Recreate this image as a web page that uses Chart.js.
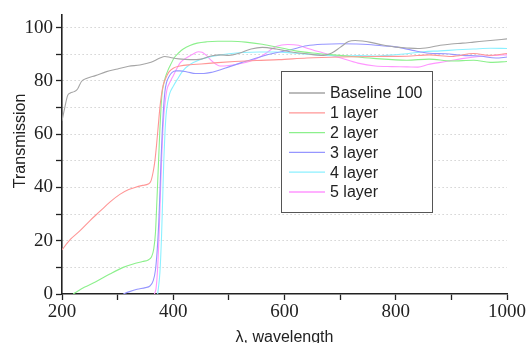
<!DOCTYPE html>
<html>
<head>
<meta charset="utf-8">
<script src="https://cdn.jsdelivr.net/npm/chart.js@4/dist/chart.umd.min.js"></script>
<style>
  html, body { margin: 0; padding: 0; background: #fff; }
</style>
</head>
<body>
<canvas id="specChart" width="527" height="343"></canvas>
<script>
// series names, as in the legend
var seriesNames = ['Baseline 100', '1 layer', '2 layer', '3 layer', '4 layer', '5 layer'];

// Baseline 100 (grey)
var baselineX = [200, 205, 210, 215, 222, 228, 235, 245, 260, 280, 300, 320, 340, 360, 375, 385, 395, 410, 430, 450, 470, 485, 500, 520, 540, 560, 585, 610, 640, 670, 685, 700, 715, 727, 740, 755, 775, 800, 820, 840, 860, 880, 900, 920, 940, 960, 980, 1000];
var baselineY = [65, 70, 74.5, 75.5, 76, 77, 79.8, 81, 82, 83.5, 84.5, 85.5, 86, 87, 88.5, 89.2, 88.8, 88.3, 88, 88.2, 89.5, 89.8, 89.6, 90.5, 92, 92.6, 92, 91, 90.2, 89.6, 90.5, 92.6, 94.8, 95.2, 95, 94.5, 93.6, 92.7, 92.4, 92.2, 92.6, 93.4, 93.9, 94.2, 94.6, 95, 95.4, 95.8];

// 1 layer (red)
var layer1X = [200, 215, 232, 250, 268, 286, 304, 320, 331, 345, 355, 360, 364, 367, 370, 373, 376, 379, 382, 386, 392, 400, 412, 430, 450, 480, 510, 550, 590, 640, 700, 760, 820, 860, 900, 940, 970, 1000];
var layer1Y = [16.6, 20.5, 23.7, 27.5, 31, 34.5, 37.4, 39.2, 40, 40.8, 41.3, 42.5, 46, 50, 56, 63, 70, 75, 78.5, 80.8, 83.3, 84.8, 85.6, 86.1, 86.4, 86.9, 87.3, 87.7, 88, 88.6, 89, 89.2, 89.3, 89.8, 89.2, 90.3, 89.6, 90.3];

// 2 layer (green)
var layer2X = [220, 240, 260, 286, 310, 328, 345, 355, 361, 365, 368, 370, 372, 374, 376, 378, 380, 383, 386, 390, 395, 402, 410, 418, 430, 443, 460, 480, 505, 530, 560, 590, 620, 650, 700, 760, 820, 860, 900, 940, 970, 1000];
var layer2Y = [0, 2.5, 4.5, 7.5, 10, 11.3, 12.2, 12.8, 14, 17, 23, 32, 42, 52, 62, 70, 75.5, 79, 81.5, 83.8, 86, 88.8, 90.6, 92, 93.3, 94.2, 94.7, 94.9, 94.9, 94.6, 93.8, 92.6, 91.3, 90.5, 89.6, 88.5, 87.8, 88.2, 87.5, 87.8, 87, 87.3];

// 3 layer (blue)
var layer3X = [310, 320, 335, 350, 358, 364, 368, 371, 374, 376, 378, 380, 382, 385, 388, 392, 398, 405, 412, 425, 440, 455, 470, 485, 500, 520, 540, 560, 585, 610, 640, 670, 700, 730, 750, 775, 800, 830, 860, 890, 920, 950, 980, 1000];
var layer3Y = [0, 0.8, 1.8, 2.4, 3, 5, 9, 16, 27, 38, 50, 60, 68, 76, 79.5, 81.5, 83.2, 83.8, 83.8, 83.4, 82.8, 82.8, 83.3, 84.2, 85.3, 86.7, 88, 89.3, 90.6, 91.7, 93.2, 93.8, 94, 93.9, 93.7, 93.2, 92.8, 91.5, 90.4, 90.2, 89.6, 89.4, 88.6, 89];

// 4 layer (cyan)
var layer4X = [372, 376, 379, 381, 383, 385, 387, 390, 394, 400, 407, 418, 430, 448, 465, 480, 500, 525, 555, 585, 615, 645, 675, 705, 735, 765, 790, 820, 850, 880, 910, 940, 970, 1000];
var layer4Y = [0, 8, 22, 36, 50, 60, 67, 72, 75.5, 78, 80.5, 84, 86.2, 88, 89, 89.6, 90.2, 90.7, 90.9, 90.9, 90.5, 90, 89.6, 89.4, 89.5, 89.4, 89.7, 90.2, 91, 91.3, 91.7, 92, 92.3, 92.2];

// 5 layer (magenta)
var layer5X = [366, 369, 372, 375, 377, 379, 381, 383, 386, 389, 394, 400, 406, 412, 420, 433, 445, 452, 460, 470, 484, 500, 515, 538, 560, 586, 606, 625, 642, 670, 703, 732, 763, 793, 820, 840, 858, 890, 919, 950, 978, 1000];
var layer5Y = [0, 2, 10, 25, 38, 50, 60, 67, 73, 77, 79.5, 82, 84.5, 86.7, 88.2, 89.8, 91, 90.8, 89.5, 87.4, 85.6, 85.8, 86.3, 87.4, 89.5, 93, 93.7, 93.4, 92.2, 90.5, 88.5, 86.7, 85.6, 85.4, 85.3, 85.2, 86.2, 87.3, 88.4, 89.2, 89.6, 89.8];

var lineColours = ['rgb(165,165,165)', 'rgb(255,150,150)', 'rgb(140,240,140)', 'rgb(150,150,255)', 'rgb(140,240,255)', 'rgb(255,150,255)'];

var allX = [baselineX, layer1X, layer2X, layer3X, layer4X, layer5X];
var allY = [baselineY, layer1Y, layer2Y, layer3Y, layer4Y, layer5Y];

// turn x / y arrays into point lists for each dataset
var datasets = [];
for (var i = 0; i < seriesNames.length; i++) {
    var pts = [];
    for (var j = 0; j < allX[i].length; j++) {
        pts.push({x: allX[i][j], y: allY[i][j]});
    }
    datasets.push({
        label: seriesNames[i],
        data: pts,
        borderColor: lineColours[i],
        borderWidth: 1.1,
        pointRadius: 0,
        fill: false,
        cubicInterpolationMode: 'monotone'
    });
}

// legend box drawn inside the plot, like the original
var boxLegend = {
    id: 'boxLegend',
    afterDraw: function(chart) {
        var ctx = chart.ctx;
        ctx.save();
        ctx.fillStyle = '#fff';
        ctx.fillRect(281, 71, 151, 141);
        ctx.strokeStyle = '#555';
        ctx.lineWidth = 1;
        ctx.strokeRect(281.5, 71.5, 151, 141);
        ctx.font = '16px "Liberation Sans", Arial, sans-serif';
        ctx.textBaseline = 'middle';
        ctx.fillStyle = '#222';
        chart.data.datasets.forEach(function(ds, k) {
            var y = 93 + k * 19.8;
            ctx.strokeStyle = ds.borderColor;
            ctx.lineWidth = 1.3;
            ctx.beginPath();
            ctx.moveTo(289, y);
            ctx.lineTo(325, y);
            ctx.stroke();
            ctx.fillText(ds.label, 330, y + 1);
        });
        ctx.restore();
    }
};

var tickFont = {family: '"Liberation Serif", "Times New Roman", serif', size: 19};
var titleFont = {family: '"Liberation Sans", Arial, sans-serif', size: 16};

new Chart(document.getElementById('specChart'), {
    type: 'line',
    data: {datasets: datasets},
    plugins: [boxLegend],
    options: {
        responsive: false,
        animation: false,
        layout: {padding: {left: 0, right: 20, top: 8, bottom: 0}},
        plugins: {legend: {display: false}, tooltip: {enabled: false}},
        scales: {
            x: {
                type: 'linear',
                min: 200,
                max: 1000,
                afterFit: function(s) { s.height = 49; },
                ticks: {
                    stepSize: 100,
                    autoSkip: false,
                    maxRotation: 0,
                    padding: 1,
                    color: '#222',
                    font: tickFont,
                    callback: function(v) { return v % 200 === 0 ? v : ''; }
                },
                grid: {drawOnChartArea: false, tickLength: 6, tickColor: '#222', tickWidth: 1.3},
                border: {color: '#222', width: 1.6},
                title: {display: true, text: 'λ, wavelength', color: '#222', font: titleFont, padding: {top: 0, bottom: -4}}
            },
            y: {
                min: 0,
                max: 105,
                afterFit: function(s) { s.width = 62; },
                ticks: {
                    stepSize: 10,
                    includeBounds: false,
                    padding: 3,
                    color: '#222',
                    font: tickFont,
                    callback: function(v) { return v % 20 === 0 ? v : ''; }
                },
                grid: {
                    color: function(c) { return c.tick && c.tick.value === 0 ? 'rgba(0,0,0,0)' : '#bdbdbd'; },
                    tickColor: '#222',
                    tickWidth: 1.3,
                    tickLength: 6,
                    lineWidth: 1
                },
                border: {color: '#222', width: 1.6, dash: [1, 3]},
                title: {display: true, text: '      Transmission', color: '#222', font: titleFont, padding: {top: 11}}
            }
        }
    }
});
</script>
</body>
</html>
